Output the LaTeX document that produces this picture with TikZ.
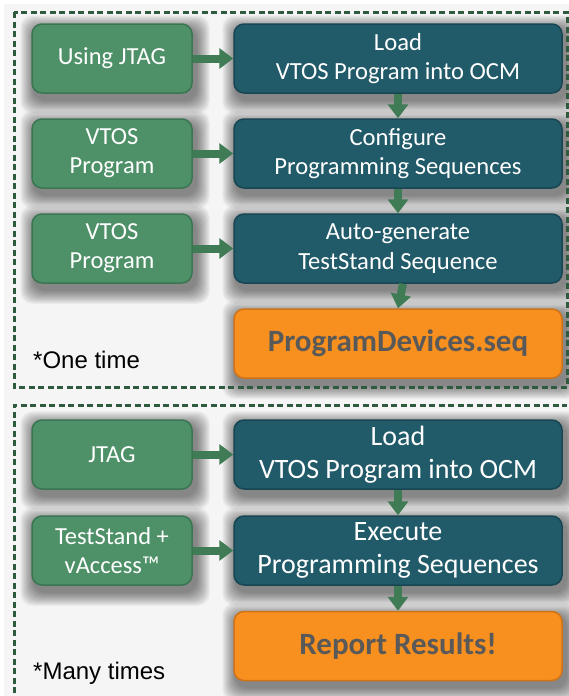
\documentclass[tikz,border=0pt]{standalone}
\usepackage{fontspec}
\setmainfont{Carlito}
\newfontfamily\arialf{Liberation Sans}
\usetikzlibrary{arrows.meta}
\pgfdeclarelayer{background}
\pgfsetlayers{background,main}
\definecolor{gfill}{HTML}{4E9168}
\definecolor{gdraw}{HTML}{3B7552}
\definecolor{tfill}{HTML}{215A68}
\definecolor{tdraw}{HTML}{184654}
\definecolor{ofill}{HTML}{F7901E}
\definecolor{odraw}{HTML}{D07318}
\definecolor{otext}{HTML}{595959}
\definecolor{arr}{HTML}{3F7B55}
\definecolor{dash}{HTML}{2E5A3D}
\tikzset{
  gbox/.style={draw=gdraw,fill=gfill,line width=1.5pt,rounded corners=10pt,minimum width=160pt,minimum height=69pt,text=white,align=center,font=\fontsize{24.5}{29}\selectfont,inner sep=0pt},
  tbox/.style={draw=tdraw,fill=tfill,line width=1.5pt,rounded corners=10pt,minimum width=328pt,minimum height=69pt,text=white,align=center,font=\fontsize{24.6}{29.5}\selectfont,inner sep=0pt},
  obox/.style={draw=odraw,fill=ofill,line width=1.5pt,rounded corners=10pt,minimum width=328pt,minimum height=69pt,text=otext,align=center,inner sep=0pt},
  flow/.style={draw=arr,line width=8pt,-{Triangle[width=20pt,length=14pt]}},
  dbox/.style={draw=dash,line width=3pt,dash pattern=on 6pt off 3.5pt},
  note/.style={font=\arialf\fontsize{24}{29}\selectfont,anchor=west,inner sep=0pt},
  shadowlayer/.style={fill=black,opacity=0.04}
}
\newcommand\boxshadow[1]{%
  \foreach \k in {1,...,14} {%
    \fill[shadowlayer,rounded corners=12pt] ([shift={(3-\k,6-\k)}]#1.north west) rectangle ([shift={(3+\k,6+\k)}]#1.south east);%
  }%
}
\begin{document}
\begin{tikzpicture}[x=1pt,y=-1pt]
\useasboundingbox (0,0) rectangle (569,696);
% top section
\node[gbox] (g1) at (112,58.5) {Using JTAG};
\node[gbox] (g2) at (112,153.5) {VTOS\\Program};
\node[gbox] (g3) at (112,248.5) {VTOS\\Program};
\node[tbox] (t1) at (398,58.5) {Load\\VTOS Program into OCM};
\node[tbox] (t2) at (398,153.5) {Configure\\Programming Sequences};
\node[tbox] (t3) at (398,248.5) {Auto-generate\\TestStand Sequence};
\node[obox,font=\bfseries\fontsize{31}{36}\selectfont] (o1) at (398,343.5) {ProgramDevices.seq};
\node[note] (n1) at (33,360) {*One time};
\draw[flow] (g1.east) -- (t1.west);
\draw[flow] (g2.east) -- (t2.west);
\draw[flow] (g3.east) -- (t3.west);
\draw[flow] (t1.south) -- (t2.north);
\draw[flow] (t2.south) -- (t3.north);
\draw[flow] ([xshift=5pt]t3.south) -- (o1.north);
% bottom section
\node[gbox] (g4) at (112,454.5) {JTAG};
\node[gbox] (g5) at (112,550.5) {TestStand +\\vAccess™};
\node[tbox,font=\fontsize{28}{33}\selectfont] (t4) at (398,454.5) {Load\\VTOS Program into OCM};
\node[tbox,font=\fontsize{28}{33}\selectfont] (t5) at (398,550.5) {Execute\\Programming Sequences};
\node[obox,font=\bfseries\fontsize{31}{36}\selectfont] (o2) at (398,646) {Report Results!};
\node[note] (n2) at (33,673) {*Many times};
\draw[flow] (g4.east) -- (t4.west);
\draw[flow] (g5.east) -- (t5.west);
\draw[flow] (t4.south) -- (t5.north);
\draw[flow] (t5.south) -- (o2.north);
\begin{pgfonlayer}{background}
\fill[white] (0,0) rectangle (569,696);
\fill[black!4] (4,4) rectangle (569,700);
\foreach \n in {g1,g2,g3,t1,t2,t3,o1,g4,g5,t4,t5,o2} {\boxshadow{\n}}
\draw[dbox] (14,12) rectangle (567,387);
\draw[dbox] (567,710) -- (14,710) -- (14,405) -- (567,405);
\end{pgfonlayer}
\end{tikzpicture}
\end{document}
